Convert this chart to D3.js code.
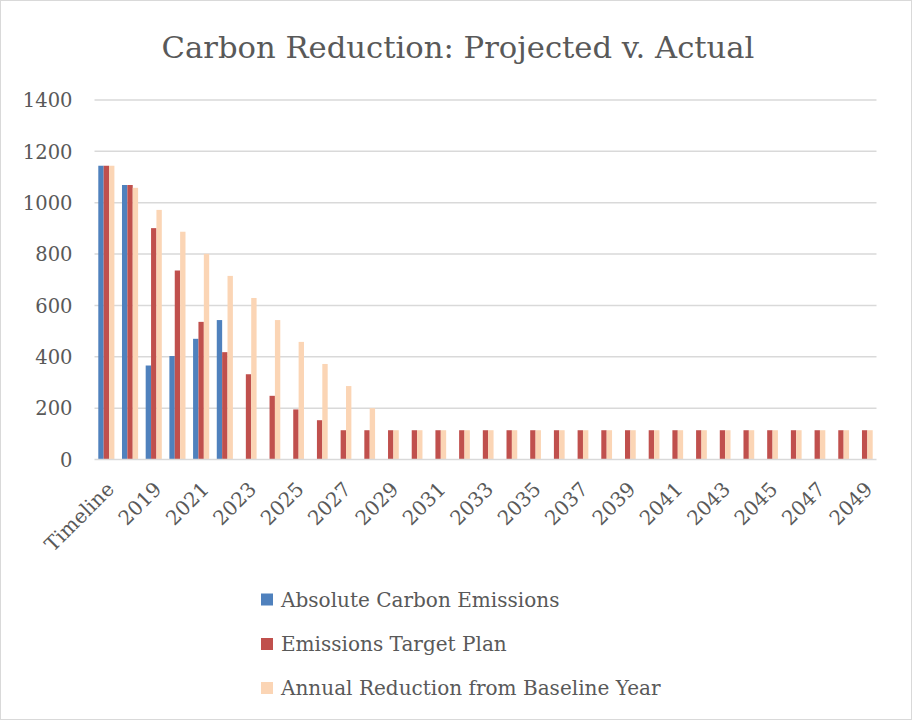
<!DOCTYPE html>
<html>
<head>
<meta charset="utf-8">
<script src="https://cdn.jsdelivr.net/npm/d3@7"></script>
<style>
  html, body { margin: 0; padding: 0; background: #fff; }
  svg { display: block; }
  text { font-family: "DejaVu Serif", "Liberation Serif", serif; fill: #595959; }
</style>
</head>
<body>
<svg id="chart" width="912" height="720"></svg>
<script>
// ---- data ----
const categories = ["Timeline", "2018", "2019", "2020", "2021", "2022", "2023", "2024", "2025", "2026",
  "2027", "2028", "2029", "2030", "2031", "2032", "2033", "2034", "2035", "2036", "2037", "2038",
  "2039", "2040", "2041", "2042", "2043", "2044", "2045", "2046", "2047", "2048", "2049"];
const seriesNames = ["Absolute Carbon Emissions", "Emissions Target Plan", "Annual Reduction from Baseline Year"];
const absoluteEmissions = [1144, 1069, 366, 403, 470, 543, null, null, null, null,
  null, null, null, null, null, null, null, null, null, null, null, null,
  null, null, null, null, null, null, null, null, null, null, null];
const targetPlan = [1144, 1069, 901, 736, 536, 418, 332, 248, 195, 153,
  114, 114, 114, 114, 114, 114, 114, 114, 114, 114, 114, 114,
  114, 114, 114, 114, 114, 114, 114, 114, 114, 114, 114];
const annualReduction = [1144, 1058, 972, 887, 801, 715, 629, 543, 458, 372,
  286, 200, 114, 114, 114, 114, 114, 114, 114, 114, 114, 114,
  114, 114, 114, 114, 114, 114, 114, 114, 114, 114, 114];
const yTicks = [0, 200, 400, 600, 800, 1000, 1200, 1400];
const seriesColors = ["#4f81bd", "#c0504d", "#fbd5b5"];
const titleText = "Carbon Reduction: Projected v. Actual";

// ---- layout ----
const svg = d3.select("#chart");
const W = 912, H = 720;
const plot = { left: 94.5, right: 876.5, top: 100, bottom: 459.5 };

svg.append("rect").attr("x", 0.5).attr("y", 0.5).attr("width", W - 1).attr("height", H - 1)
  .attr("fill", "#fff").attr("stroke", "#d9d9d9").attr("stroke-width", 1);

function fit(sel, target) {
  const base = parseFloat(sel.attr("font-size"));
  const len = sel.node().getComputedTextLength();
  sel.attr("font-size", (base * target / len).toFixed(2));
}

// title
const title = svg.append("text").attr("x", 458).attr("y", 58).attr("text-anchor", "middle")
  .attr("font-size", 32).text(titleText);
fit(title, 593);

const x0 = d3.scaleBand().domain(categories).range([plot.left, plot.right])
  .paddingInner(0.32).paddingOuter(0.16);
const x1 = d3.scaleBand().domain(d3.range(3)).range([0, x0.bandwidth()]).padding(0);
const y = d3.scaleLinear().domain([0, 1400]).range([plot.bottom, plot.top]);

// gridlines
svg.append("g").selectAll("line").data(yTicks.filter(d => d > 0)).join("line")
  .attr("x1", plot.left).attr("x2", plot.right)
  .attr("y1", d => y(d)).attr("y2", d => y(d))
  .attr("stroke", "#d9d9d9").attr("stroke-width", 1.5);

// y axis labels
const yAxis = svg.append("g").attr("transform", `translate(${plot.left},0)`)
  .call(d3.axisLeft(y).tickValues(yTicks).tickFormat(d3.format("d")).tickSize(0).tickPadding(22));
yAxis.select(".domain").remove();
yAxis.selectAll("text").attr("font-size", 19.5).attr("fill", "#595959")
  .attr("font-family", "DejaVu Serif, serif").attr("dy", "0.35em");

// bars
const seriesData = [absoluteEmissions, targetPlan, annualReduction];
seriesData.forEach((vals, si) => {
  svg.append("g").selectAll("rect")
    .data(vals.map((v, i) => ({ cat: categories[i], v })).filter(d => d.v != null))
    .join("rect")
    .attr("x", d => x0(d.cat) + x1(si))
    .attr("width", x1.bandwidth())
    .attr("y", d => y(d.v))
    .attr("height", d => y(0) - y(d.v))
    .attr("fill", seriesColors[si]);
});

// x axis baseline
svg.append("line").attr("x1", plot.left).attr("x2", plot.right)
  .attr("y1", y(0)).attr("y2", y(0)).attr("stroke", "#d9d9d9").attr("stroke-width", 1.5);

// x axis labels (every other)
const xAxis = svg.append("g").attr("transform", `translate(0,${plot.bottom})`)
  .call(d3.axisBottom(x0).tickValues(categories.filter((c, i) => i % 2 === 0)).tickSize(0).tickPadding(0));
xAxis.select(".domain").remove();
xAxis.selectAll("text")
  .attr("font-size", 20).attr("fill", "#595959").attr("font-family", "DejaVu Serif, serif")
  .attr("text-anchor", "end")
  .attr("dy", 0).attr("y", 0)
  .attr("transform", "translate(9,31) rotate(-45)");

// legend
const legend = svg.append("g");
const legendRows = [606.5, 651, 695];
seriesNames.forEach((name, i) => {
  legend.append("rect").attr("x", 261).attr("y", legendRows[i] - 13).attr("width", 12).attr("height", 12)
    .attr("fill", seriesColors[i]);
  legend.append("text").attr("x", 281).attr("y", legendRows[i]).attr("font-size", 20).text(name);
});
fit(legend.selectAll("text").filter((d, i) => i === 2), 380);
const lfs = legend.selectAll("text").filter((d, i) => i === 2).attr("font-size");
legend.selectAll("text").attr("font-size", lfs);
</script>
</body>
</html>
